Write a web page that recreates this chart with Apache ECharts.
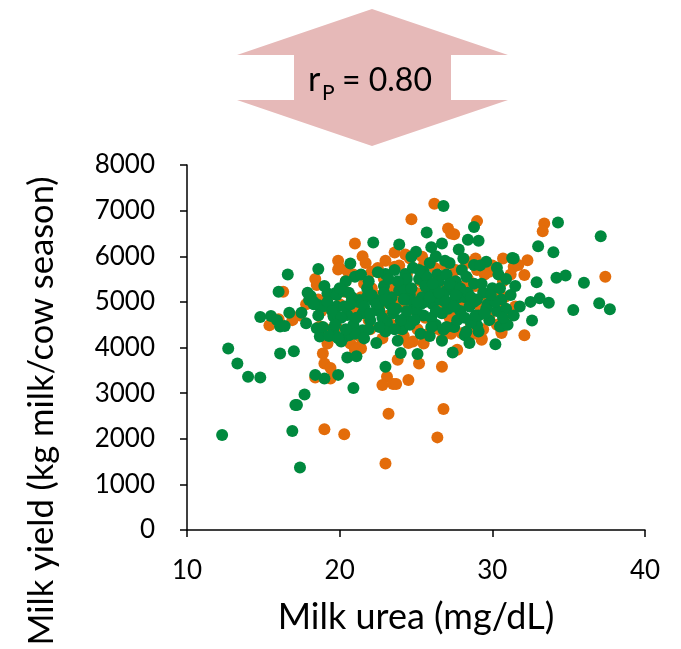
<!DOCTYPE html>
<html>
<head>
<meta charset="utf-8">
<script src="https://cdn.jsdelivr.net/npm/echarts@6/dist/echarts.min.js"></script>
<style>
  html, body { margin: 0; padding: 0; background: #fff; }
  #main { width: 681px; height: 649px; }
</style>
</head>
<body>
<div id="main"></div>
<script>
// axis ticks
const xTicks = [10, 20, 30, 40]
const yTicks = [0, 1000, 2000, 3000, 4000, 5000, 6000, 7000, 8000]

// [milk urea mg/dL, milk yield kg] - orange group (drawn first)
const orangePoints = [
  [26.2,7150],[24.7,6810],[29.0,6770],[33.4,6720],[33.3,6550],[27.1,6610],[27.3,6500],[27.5,6480],
  [21.0,6280],[23.6,6080],[24.3,6040],[25.4,5990],[21.5,6000],[19.9,5900],[20.0,5740],[19.9,5710],
  [22.5,5740],[22.1,5660],[23.6,5770],[20.5,5680],[20.4,5460],[18.4,5500],[18.5,5370],
  [28.2,5920],[28.9,5950],[30.7,5950],[32.3,5910],[31.4,5770],[31.7,5810],[32.1,5590],[29.8,5660],[37.4,5550],
  [16.3,5220],[15.4,4490],[16.0,4620],[18.7,4460],[20.3,5220],
  [32.1,4270],[30.6,4320],[30.6,4350],[29.3,4170],[29.3,4200],[28.0,4310],[27.4,4530],[26.7,4170],
  [25.5,4090],[24.8,4130],[24.5,4100],[27.7,3950],
  [26.7,3580],[25.2,3650],[24.5,3290],[23.8,3730],[23.1,3360],[22.8,3180],[23.5,3200],[23.7,3200],
  [26.8,2650],[26.4,2030],[23.2,2550],[23.0,1460],
  [18.9,3870],[19.0,3650],[19.4,3550],[18.4,3340],[19.4,3320],[19.0,2210],[20.3,2100],
  [19.2,4090],[20.7,4090],[21.3,4020],[21.4,3980],[21.0,3950],
  [20.2,5250],[20.8,5050],[21.2,4800],[21.6,5400],[21.9,4600],[22.3,5150],[22.6,4900],[22.9,5500],
  [23.2,4700],[23.5,5300],[23.8,5050],[24.1,4500],[24.4,5600],[24.7,4850],[25.0,5200],[25.3,5450],
  [25.6,4650],[25.9,5000],[26.2,5750],[26.5,4400],[26.8,5300],[27.1,4950],[27.4,5500],[27.7,4700],
  [28.0,5150],[28.3,5850],[28.6,4500],[28.9,5350],[29.2,4900],[29.5,5600],[29.8,4650],[30.1,5200],
  [30.4,4950],[30.7,5450],[31.0,4750],
  [19.6,4700],[19.8,4450],[20.0,4950],[20.5,4350],[20.9,5600],[21.3,4250],[21.7,5850],[22.0,4400],
  [22.4,5700],[22.8,4200],[23.0,5900],[23.4,4500],[23.9,5800],[24.2,4250],[24.6,5950],[25.1,4400],
  [25.5,5800],[25.8,4300],[26.1,5500],[26.4,4850],[26.9,5800],[27.3,4300],[27.6,5700],[27.9,4900],
  [28.4,5500],[28.8,4300],[29.0,5700],[29.4,4400],[29.7,5100],[30.0,5800],[30.3,4500],[30.8,5100],
  [31.2,5600],[31.5,4900],
  [23.3,5150],[24.0,4950],[25.7,5250],[26.6,5100],[27.2,4650],[28.1,5350],[22.1,5300],[21.4,5100],
  [20.6,4750],[19.4,5150],[18.8,4800],[18.6,5050],[19.1,4400],[17.8,4950],[17.4,4700],[16.9,4600]
]

// [milk urea mg/dL, milk yield kg] - green group (drawn on top)
const greenPoints = [
  [26.8,7100],[28.8,6640],[34.3,6740],[37.1,6440],[25.7,6520],[28.4,6360],[29.1,6340],[26.7,6280],
  [33.0,6220],[34.0,6090],[31.3,5960],[32.9,5430],[34.2,5530],[34.8,5580],[36.0,5420],[37.0,4970],
  [37.7,4840],[35.3,4820],[33.7,4980],[32.5,5000],[33.1,5080],[32.6,4590],[30.2,4070],[27.4,3890],
  [25.1,3860],[24.0,3880],[23.0,3580],[20.9,3110],[20.5,3780],[21.1,3810],[18.4,3400],[19.0,3320],[19.9,3400],
  [22.2,6300],[23.9,6260],[24.7,5990],[20.7,5840],[18.6,5720],[16.6,5600],[16.0,5220],[18.1,5130],
  [14.8,4670],[15.5,4690],[15.9,4600],[16.1,4460],[16.4,4470],[16.7,4760],[17.5,4760],[17.8,4530],
  [12.7,3980],[13.3,3650],[14.0,3360],[14.8,3340],[16.1,3870],[17.0,3920],[17.7,2970],[17.1,2740],
  [17.2,2740],[12.3,2080],[16.9,2170],[17.4,1370],
  [28.2,4270],[28.3,4350],[29.1,4350],[29.0,4490],[26.8,4390],[30.5,4460],[30.6,4470],
  [23.0,5610],[24.3,5610],[25.5,5660],[21.0,5550],
  [28.8,5810],[29.6,5880],[30.3,5750],[31.4,5950],
  [18.0,5040],[18.3,5000],[18.6,4930],[18.9,4900],[19.2,5190],[19.7,5190],[20.2,5240],[19.8,4900],
  [19.6,4680],[19.9,4680],[20.5,4710],[18.5,4420],[18.7,4240],[19.6,4420],[19.8,4240],[20.2,4200],
  [20.6,4270],[20.1,4130],[21.5,4380],[21.3,5040],[21.8,5110],[22.2,5040],
  [19.2,5000],[19.5,4800],[19.8,5150],[20.1,4650],[20.3,4900],[20.6,5200],[20.9,4500],[21.2,5000],
  [21.5,4750],[21.8,5300],[22.0,4600],[22.3,5050],[22.6,4800],[22.9,5350],[23.1,4550],[23.4,5100],
  [23.7,4850],[24.0,5400],[24.3,4650],[24.6,5150],[24.9,4900],[25.2,5500],[25.5,4700],[25.8,5200],
  [26.1,4950],[26.4,5600],[26.7,4750],[27.0,5250],[27.3,5000],[27.6,5450],[27.9,4800],[28.2,5100],
  [28.5,4900],[28.8,5400],[29.1,4700],[29.4,5200],[29.7,4950],[30.0,5300],[30.3,4800],[30.6,5050],
  [30.9,4850],[31.2,5150],
  [19.0,5350],[19.7,4500],[20.4,5450],[21.0,4300],[21.4,5600],[21.9,4400],[22.5,5650],[23.0,4350],
  [23.6,5700],[24.1,4400],[24.8,5750],[25.3,4300],[25.9,5850],[26.3,4500],[26.9,5900],[27.5,4450],
  [28.0,5700],[28.6,4550],[29.2,5800],[29.8,4600],[30.4,5600],[31.0,4500],[31.5,5350],[31.8,4900],
  [22.1,5150],[22.7,5000],[23.3,4950],[23.9,5250],[24.5,5050],[25.0,4800],[25.6,5000],[26.2,5300],
  [26.6,5050],[27.1,4850],[27.8,5100],[28.4,5200],[29.0,5050],[29.6,4850],[30.2,5000],[24.2,5300],
  [25.4,5100],[26.0,4650],[27.4,5350],[28.8,5000],[23.5,4750],[22.8,4650],[21.6,4900],[20.8,5100],
  [20.0,5300],[18.6,4700],[18.3,4950],[18.9,4450],[17.9,5200],[19.3,4250],
  [26.5,5450],[27.0,5600],[25.7,5550],[24.4,5500],[23.2,5500],[26.8,5150],[27.7,4600],[28.9,4700],
  [30.7,4650],[31.4,4700],[30.9,5500],[26.3,6000],[27.2,5850],[27.8,6150],[28.1,5950],[26.0,6200],
  [25.0,6100],[21.6,4200],[22.4,4100],[23.8,4150],[25.9,4250],[26.7,4150],[28.5,4100],[24.6,4500],
  [20.4,4400],[19.9,4200],
  [22.4,4950],[22.9,5200],[23.5,4850],[23.8,5450],[24.2,5050],[24.7,5300],[24.9,4600],[25.3,4950],
  [25.6,5350],[25.9,5100],[26.3,4800],[26.5,5200],[26.9,5000],[27.2,5400],[27.5,4900],[27.9,5300],
  [28.2,4650],[28.6,5100],[29.3,5400],[29.5,4750],[25.1,5000],[24.4,4800],[26.1,5400],[27.6,5150],
  [23.0,5050],[22.0,4750],[21.1,4650],[20.7,4950],[21.9,5450],[24.0,4600],[26.0,4450],[27.0,4450],
  [25.2,5700],[28.3,5550],[29.9,5150],[30.5,5300],[23.6,4400],[22.6,4450]
]

const axisFont = 'Lato'
const orange = '#E36C0A'
const green = '#00893E'

const chart = echarts.init(document.getElementById('main'), null, { renderer: 'canvas' })

chart.setOption({
  backgroundColor: '#ffffff',
  animation: false,
  grid: { left: 187, right: 36, top: 165, bottom: 119, containLabel: false },
  xAxis: {
    type: 'value',
    min: xTicks[0],
    max: xTicks[xTicks.length - 1],
    interval: xTicks[1] - xTicks[0],
    name: 'Milk urea (mg/dL)',
    nameLocation: 'middle',
    nameGap: 69,
    nameTextStyle: { fontFamily: axisFont, fontSize: 36, color: '#000' },
    axisLine: { show: true, onZero: false, lineStyle: { color: '#000', width: 1.5 } },
    axisTick: { show: true, inside: false, length: 7, lineStyle: { color: '#000', width: 1.5 } },
    axisLabel: { fontFamily: axisFont, fontSize: 26, color: '#000', margin: 28 },
    splitLine: { show: false }
  },
  yAxis: {
    type: 'value',
    min: yTicks[0],
    max: yTicks[yTicks.length - 1],
    interval: yTicks[1] - yTicks[0],
    axisLine: { show: true, lineStyle: { color: '#000', width: 1.5 } },
    axisTick: { show: true, inside: false, length: 7, lineStyle: { color: '#000', width: 1.5 } },
    axisLabel: { fontFamily: axisFont, fontSize: 26, color: '#000', margin: 32, formatter: v => String(v) },
    splitLine: { show: false }
  },
  graphic: [
    {
      type: 'polygon',
      shape: {
        points: [[372, 9], [508, 55], [451, 55], [451, 100], [508, 100],
                 [372, 146], [237, 100], [294, 100], [294, 55], [237, 55]]
      },
      style: { fill: '#E6B9B8' },
      silent: true
    },
    {
      type: 'text', x: 308, y: 80,
      style: { text: 'r', font: '34px Lato', fill: '#000', textAlign: 'left', textVerticalAlign: 'middle' }
    },
    {
      type: 'text', x: 322, y: 93,
      style: { text: 'P', font: '21px Lato', fill: '#000', textAlign: 'left', textVerticalAlign: 'middle' }
    },
    {
      type: 'text', x: 342, y: 81,
      style: { text: '= 0.80', font: '32px Lato', fill: '#000', textAlign: 'left', textVerticalAlign: 'middle' }
    },
    {
      type: 'text', x: 42, y: 411, rotation: Math.PI / 2,
      style: {
        text: 'Milk yield (kg milk/cow season)', font: '34.5px Lato', fill: '#000',
        textAlign: 'center', textVerticalAlign: 'middle'
      }
    }
  ],
  series: [
    {
      type: 'scatter',
      data: orangePoints,
      symbol: 'circle',
      symbolSize: 12,
      itemStyle: { color: orange, opacity: 1 },
      z: 2
    },
    {
      type: 'scatter',
      data: greenPoints,
      symbol: 'circle',
      symbolSize: 12,
      itemStyle: { color: green, opacity: 1 },
      z: 3
    }
  ]
})
</script>
</body>
</html>
